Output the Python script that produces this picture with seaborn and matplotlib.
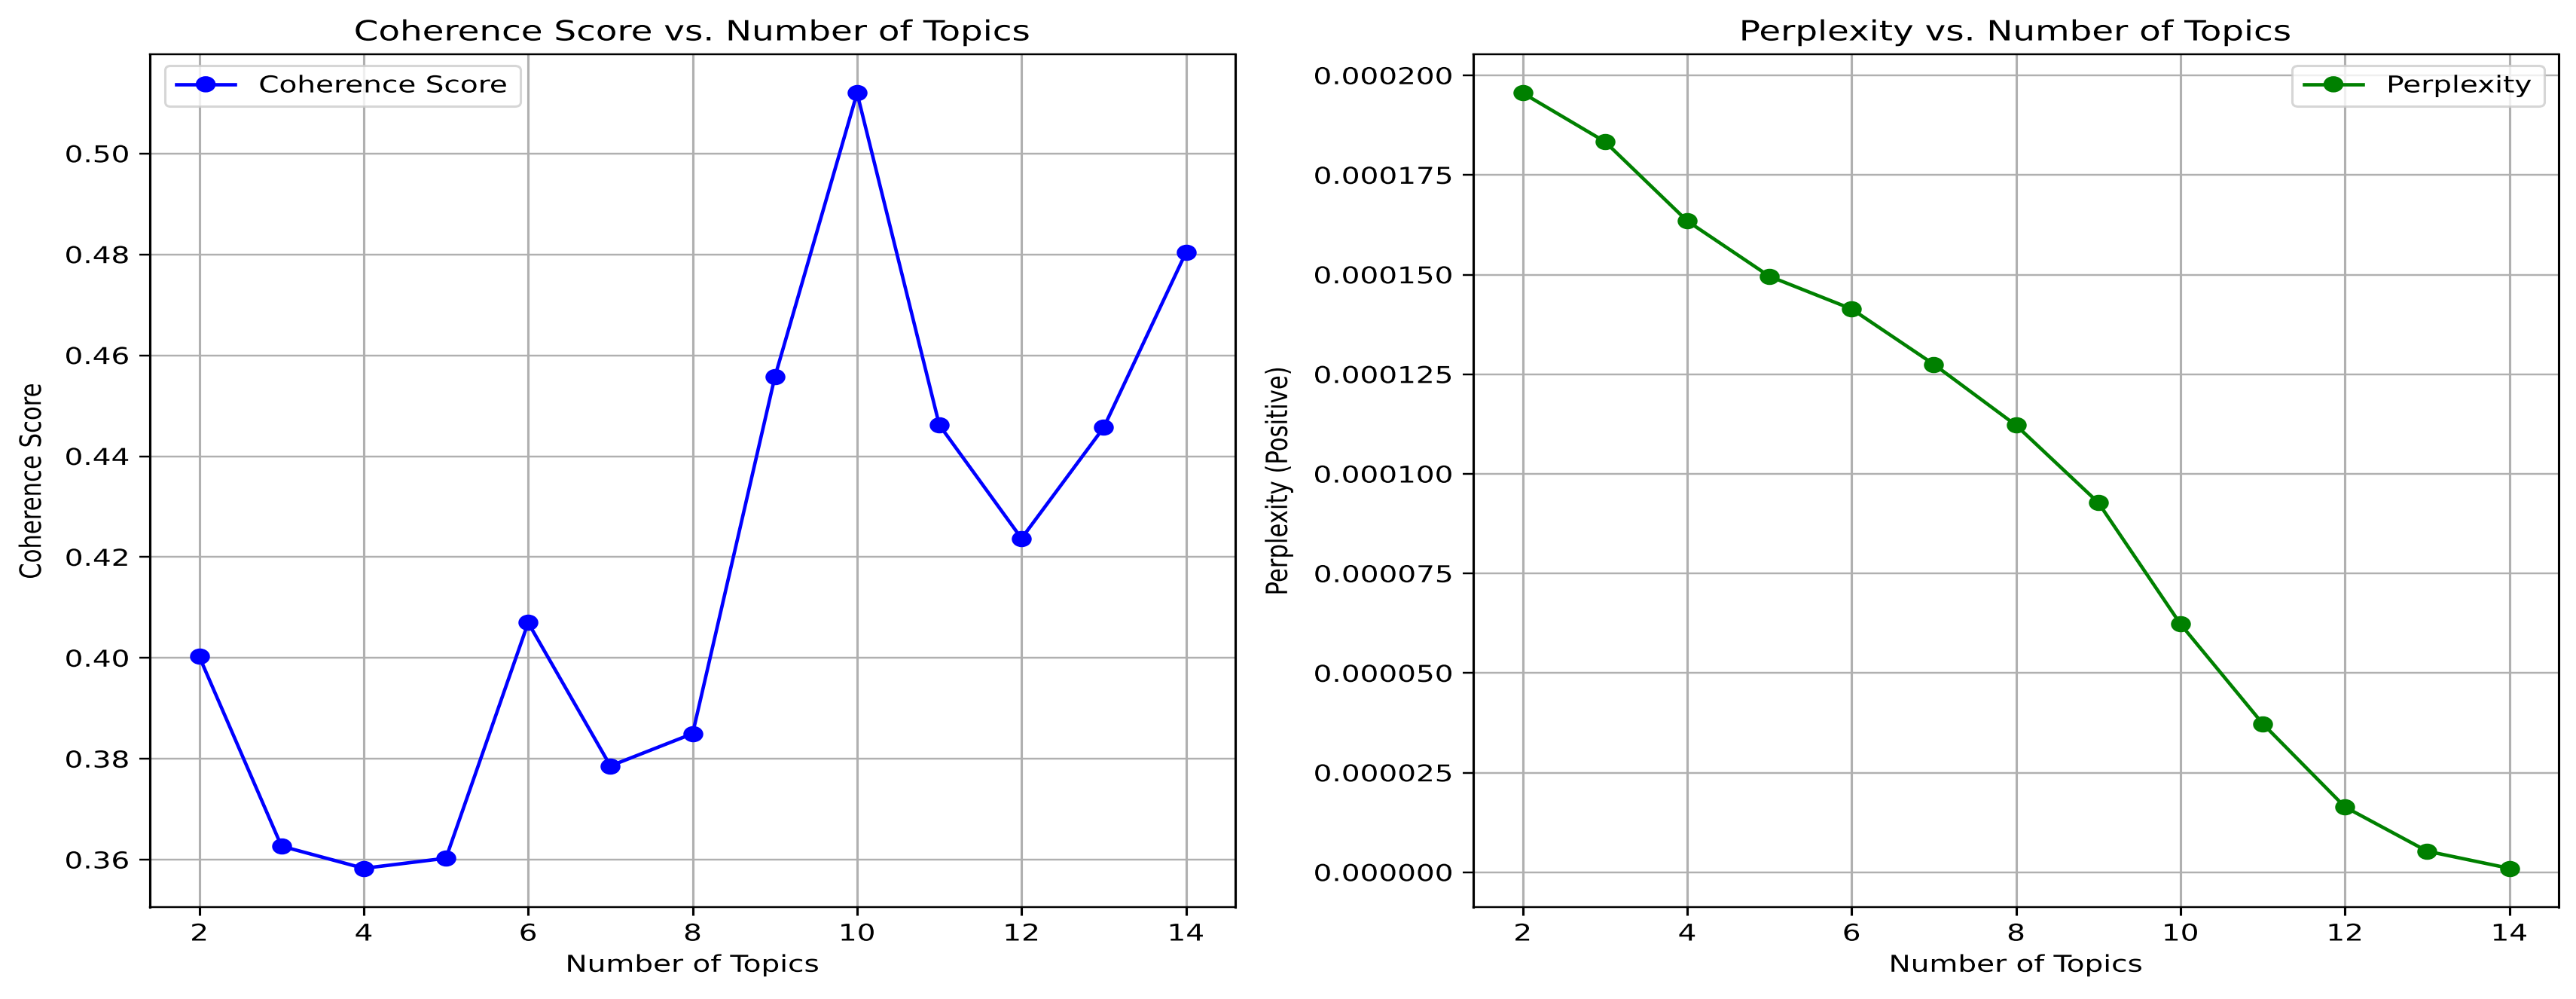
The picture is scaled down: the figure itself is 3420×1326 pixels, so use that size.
import matplotlib
matplotlib.use("Agg")
import matplotlib.pyplot as plt
import matplotlib.patheffects as pe
from matplotlib.path import Path
from matplotlib.transforms import Affine2D
import seaborn as sns

# Values
topics = [2, 3, 4, 5, 6, 7, 8, 9, 10, 11, 12, 13, 14]
coherence = [0.4003, 0.3627, 0.3583, 0.3603, 0.4070, 0.3786, 0.3850,
             0.4557, 0.5120, 0.4462, 0.4237, 0.4457, 0.4804]
perplexity = [0.0001956, 0.0001834, 0.0001635, 0.0001496, 0.0001414,
              0.0001275, 0.0001122, 0.0000928, 0.0000623, 0.0000373,
              0.0000164, 0.0000053, 0.0000010]

# the reference image was resized wider than tall by about this factor
STRETCH = 1.27
DPI = 221

plt.rcParams["font.family"] = ["DejaVu Sans"]


class StretchX(pe.AbstractPathEffect):
    """Widen a drawn path sideways, about its own box or a given x."""

    def __init__(self, anchor=0.5, at=None):
        super().__init__()
        self.anchor = anchor
        self.at = at

    def draw_path(self, renderer, gc, tpath, affine, rgbFace=None):
        if self.at is not None:
            x0 = self.at()
        else:
            bb = tpath.get_extents(affine)
            x0 = bb.x0 + self.anchor * bb.width
        t = affine + Affine2D().translate(-x0, 0).scale(STRETCH, 1).translate(x0, 0)
        renderer.draw_path(gc, tpath, t, rgbFace)


# wide dot marker, like the dots in the resized picture
dot = Path.unit_circle().transformed(Affine2D().scale(STRETCH, 1))

fig, axes = plt.subplots(1, 2, figsize=(3420 / DPI, 1326 / DPI), dpi=DPI)
fig.subplots_adjust(left=0.0582, right=0.9933, bottom=0.092, top=0.9457,
                    wspace=0.2193)

panels = [
    (axes[0], coherence, "blue", "Coherence Score",
     "Coherence Score vs. Number of Topics", "Coherence Score", "upper left", -0.0985),
    (axes[1], perplexity, "green", "Perplexity",
     "Perplexity vs. Number of Topics", "Perplexity (Positive)", "upper right", -0.169),
]

legends = []
for ax, values, color, label, title, ylabel, loc, ylab_x in panels:
    sns.lineplot(
        x=topics,
        y=values,
        color=color,
        marker=dot,
        markersize=6 * STRETCH,
        markeredgecolor=color,
        markeredgewidth=1.0,
        linewidth=1.5,
        errorbar=None,
        label=label,
        ax=ax
    )
    ax.set_title(title, fontsize=12)
    ax.set_xlabel("Number of Topics")
    ax.set_ylabel(ylabel)
    ax.yaxis.set_label_coords(ylab_x, 0.5)

    ax.xaxis.grid(True, color="#b0b0b0", linewidth=0.8 * STRETCH)
    ax.yaxis.grid(True, color="#b0b0b0", linewidth=0.8)
    ax.tick_params(axis="y", length=3.5 * STRETCH, pad=3.5 * STRETCH)
    ax.tick_params(axis="x", width=0.8 * STRETCH)
    for side in ["left", "right"]:
        ax.spines[side].set_linewidth(0.8 * STRETCH)

    leg = ax.legend(loc=loc)
    legends.append(leg)

# draw once so the tick labels exist, then widen all text
fig.canvas.draw()

for ax, leg, loc in zip(axes, legends, ["upper left", "upper right"]):
    for lab in ax.get_xticklabels():
        lab.set_path_effects([StretchX(0.5)])
    for lab in ax.get_yticklabels():
        lab.set_path_effects([StretchX(1.0)])
    ax.title.set_path_effects([StretchX(0.5)])
    ax.xaxis.label.set_path_effects([StretchX(0.5)])
    ax.yaxis.label.set_path_effects([StretchX(0.5)])

    if loc == "upper left":
        edge = lambda ax=ax: ax.bbox.x0
    else:
        edge = lambda ax=ax: ax.bbox.x1
    leg.get_frame().set_path_effects([StretchX(at=edge)])
    for t in leg.get_texts():
        t.set_path_effects([StretchX(at=edge)])
    for h in leg.legend_handles:
        h.set_marker("o")
        h.set_markersize(6)
        h.set_path_effects([StretchX(at=edge)])

fig.savefig("out.png", dpi=DPI)
